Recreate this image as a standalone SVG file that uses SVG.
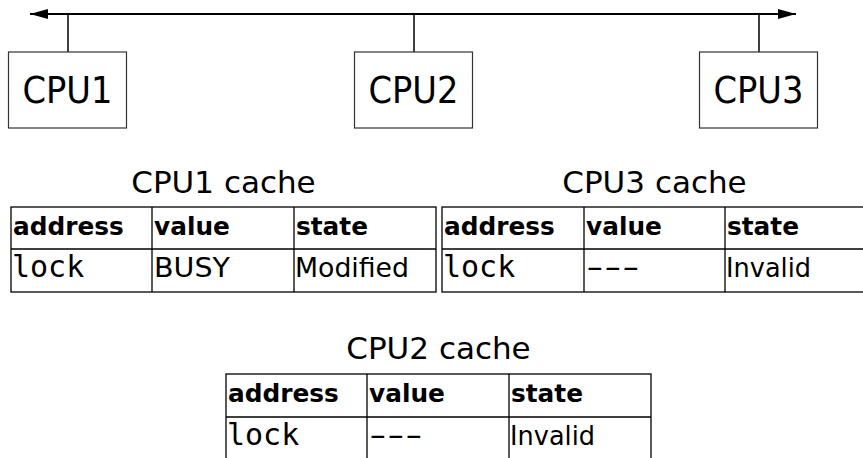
<svg xmlns="http://www.w3.org/2000/svg" width="863" height="458" viewBox="0 0 863 458">
  <style>
    .bus { stroke: #000; stroke-width: 2; fill: none; }
    .stub { stroke: #000; stroke-width: 1.5; }
    .cpu rect { fill: #fff; stroke: #333; stroke-width: 1.2; }
    .cpu text { font-family: "DejaVu Sans", sans-serif; font-size: 37px; text-anchor: middle; fill: #000; }
    .title { font-family: "DejaVu Sans", sans-serif; font-size: 31px; text-anchor: middle; fill: #000; }
    .grid { stroke: #000; stroke-width: 1.3; fill: none; }
    .hd { font-family: "DejaVu Sans", sans-serif; font-weight: bold; font-size: 24.8px; fill: #000; }
    .tx { font-family: "DejaVu Sans", sans-serif; font-size: 26.5px; fill: #000; }
    .mono { font-family: "DejaVu Sans Mono", monospace; font-size: 30px; fill: #000; }
    .dash { font-family: "DejaVu Sans Mono", monospace; font-size: 29px; letter-spacing: -6.9px; fill: #000; }
  </style>
  <defs>
    <marker id="head" viewBox="0 0 18 10" refX="18" refY="5" markerWidth="18" markerHeight="10" markerUnits="userSpaceOnUse" orient="auto-start-reverse">
      <path d="M0,0 L18,5 L0,10 Z" fill="#000"/>
    </marker>
  </defs>

  <!-- shared bus and the stubs down to each processor -->
  <g id="connectors">
    <line class="bus" x1="30" y1="14" x2="796" y2="14" marker-start="url(#head)" marker-end="url(#head)"/>
    <line class="stub" x1="68" y1="14" x2="68" y2="52"/>
    <line class="stub" x1="414" y1="14" x2="414" y2="52"/>
    <line class="stub" x1="759" y1="14" x2="759" y2="52"/>
  </g>

  <g id="cpu1" class="cpu">
    <rect x="8.5" y="52" width="118" height="76"/>
    <text x="67.5" y="103" textLength="90" lengthAdjust="spacingAndGlyphs">CPU1</text>
  </g>
  <g id="cpu2" class="cpu">
    <rect x="354.5" y="52" width="118" height="76"/>
    <text x="413.5" y="103" textLength="90" lengthAdjust="spacingAndGlyphs">CPU2</text>
  </g>
  <g id="cpu3" class="cpu">
    <rect x="699.5" y="52" width="118" height="76"/>
    <text x="758.5" y="103" textLength="90" lengthAdjust="spacingAndGlyphs">CPU3</text>
  </g>

  <!-- CPU1 cache table -->
  <g id="cpu1-cache">
    <text class="title" x="223.5" y="193">CPU1 cache</text>
    <rect class="grid" x="11" y="207" width="425" height="85"/>
    <line class="grid" x1="11" y1="249" x2="436" y2="249"/>
    <line class="grid" x1="152" y1="207" x2="152" y2="292"/>
    <line class="grid" x1="294" y1="207" x2="294" y2="292"/>
    <text class="hd" x="13" y="235">address</text>
    <text class="hd" x="154" y="235">value</text>
    <text class="hd" x="296" y="235">state</text>
    <text class="mono" x="12" y="277">lock</text>
    <text class="tx" x="154" y="277" textLength="76" lengthAdjust="spacingAndGlyphs">BUSY</text>
    <text class="tx" x="295" y="277" textLength="114" lengthAdjust="spacingAndGlyphs">Modified</text>
  </g>

  <!-- CPU3 cache table (runs past the right edge) -->
  <g id="cpu3-cache">
    <text class="title" x="654.5" y="193">CPU3 cache</text>
    <rect class="grid" x="442" y="207" width="425" height="85"/>
    <line class="grid" x1="442" y1="249" x2="867" y2="249"/>
    <line class="grid" x1="584" y1="207" x2="584" y2="292"/>
    <line class="grid" x1="725" y1="207" x2="725" y2="292"/>
    <text class="hd" x="444" y="235">address</text>
    <text class="hd" x="586" y="235">value</text>
    <text class="hd" x="727" y="235">state</text>
    <text class="mono" x="443" y="277">lock</text>
    <text class="dash" transform="translate(580,277) scale(1.7,1)">---</text>
    <text class="tx" x="726" y="277" textLength="85" lengthAdjust="spacingAndGlyphs">Invalid</text>
  </g>

  <!-- CPU2 cache table (runs past the bottom edge) -->
  <g id="cpu2-cache">
    <text class="title" x="438.5" y="359">CPU2 cache</text>
    <rect class="grid" x="226" y="374" width="425" height="86"/>
    <line class="grid" x1="226" y1="417" x2="651" y2="417"/>
    <line class="grid" x1="367" y1="374" x2="367" y2="460"/>
    <line class="grid" x1="509" y1="374" x2="509" y2="460"/>
    <text class="hd" x="228" y="402">address</text>
    <text class="hd" x="369" y="402">value</text>
    <text class="hd" x="511" y="402">state</text>
    <text class="mono" x="227" y="445">lock</text>
    <text class="dash" transform="translate(363,445) scale(1.7,1)">---</text>
    <text class="tx" x="510" y="445" textLength="85" lengthAdjust="spacingAndGlyphs">Invalid</text>
  </g>
</svg>
